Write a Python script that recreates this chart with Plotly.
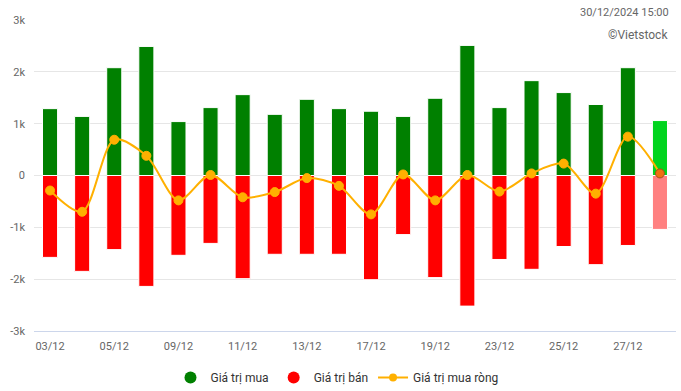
import plotly.graph_objects as go

dates = ["03/12", "04/12", "05/12", "06/12", "09/12", "10/12", "11/12", "12/12", "13/12", "16/12",
         "17/12", "18/12", "19/12", "20/12", "23/12", "24/12", "25/12", "26/12", "27/12", "30/12"]
buy = [1290, 1140, 2080, 2490, 1040, 1310, 1560, 1180, 1470, 1290,
       1240, 1140, 1490, 2510, 1310, 1830, 1600, 1370, 2080, 1060]
sell = [-1580, -1850, -1430, -2140, -1540, -1310, -1990, -1520, -1520, -1520,
        -2010, -1140, -1970, -2520, -1620, -1810, -1370, -1720, -1350, -1040]
net = [-290, -700, 690, 380, -480, 10, -420, -320, -50, -200,
       -750, 20, -480, 10, -310, 40, 230, -350, 750, 40]
ytick_vals = [-3000, -2000, -1000, 0, 1000, 2000, 3000]
ytick_text = ["-3k", "-2k", "-1k", "0", "1k", "2k", "3k"]

n = len(dates)
buy_colors = ["#008000"] * (n - 1) + ["#00D41E"]
sell_colors = ["#FF0000"] * (n - 1) + ["#FF8080"]
net_colors = ["#FFB000"] * (n - 1) + ["#F07010"]
net_line_colors = ["#FFB000"] * (n - 1) + ["#A0501A"]

FONT = "Roboto, Arial, sans-serif"
ML, MR, MT, MB = 34, 5, 20, 60
PW = 681 - ML - MR
PH = 391 - MT - MB

fig = go.Figure()
fig.add_trace(go.Bar(x=dates, y=buy, marker=dict(color=buy_colors, line=dict(color="white", width=1)),
                     showlegend=False, name="Giá trị mua"))
fig.add_trace(go.Bar(x=dates, y=sell, marker=dict(color=sell_colors, line=dict(color="white", width=1)),
                     showlegend=False, name="Giá trị bán"))
fig.add_trace(go.Scatter(x=dates, y=net, mode="lines+markers", line=dict(color="#FFB000", width=2, shape="spline", smoothing=0.85),
                         marker=dict(size=9, color=net_colors, line=dict(color=net_line_colors, width=1)),
                         showlegend=False, name="Giá trị mua ròng"))

# legend entries
fig.add_trace(go.Scatter(x=[None], y=[None], mode="markers", marker=dict(symbol="circle", size=12, color="#008000"),
                         name="Giá trị mua"))
fig.add_trace(go.Scatter(x=[None], y=[None], mode="markers", marker=dict(symbol="circle", size=12, color="#FF0000"),
                         name="Giá trị bán"))
fig.add_trace(go.Scatter(x=[None], y=[None], mode="lines+markers", line=dict(color="#FFB000", width=2),
                         marker=dict(size=8, color="#FFB000"), name="Giá trị mua ròng"))

fig.update_layout(
    width=681, height=391,
    margin=dict(l=ML, r=MR, t=MT, b=MB, autoexpand=False),
    paper_bgcolor="white", plot_bgcolor="white",
    barmode="relative", bargap=0.53,
    font=dict(family=FONT, size=11, color="#666666"),
    showlegend=True,
    legend=dict(orientation="h", x=(337 - ML) / PW, xanchor="center", y=-(377.5 - 331) / PH, yanchor="middle",
                font=dict(family=FONT, size=12, color="#333333"), itemwidth=30, traceorder="normal",
                bgcolor="rgba(0,0,0,0)"),
    xaxis=dict(tickmode="array", tickvals=dates[::2], ticktext=dates[::2], showgrid=False,
               showline=True, linecolor="#ccd6eb", linewidth=1, ticks="", automargin=False,
               ticklabelstandoff=5,
               tickfont=dict(family=FONT, size=11, color="#666666"), fixedrange=True,
               range=[-0.5, n - 0.5]),
    yaxis=dict(range=[-3000, 3000], tickvals=ytick_vals, ticktext=ytick_text, showgrid=True,
               gridcolor="#e6e6e6", gridwidth=1, zeroline=False, automargin=False,
               tickfont=dict(family=FONT, size=11, color="#666666"), ticklabelstandoff=8),
    annotations=[
        dict(text="30/12/2024 15:00", xref="paper", yref="paper", x=1, y=1 + 8 / PH, xanchor="right", yanchor="middle",
             xshift=-5, showarrow=False, font=dict(family=FONT, size=11, color="#666666")),
        dict(text="©Vietstock", xref="paper", yref="paper", x=1, y=1 - 15 / PH, xanchor="right", yanchor="middle",
             xshift=-6, showarrow=False, font=dict(family=FONT, size=12, color="#666666")),
    ],
)

fig.write_html("out.html", config={"displayModeBar": False}, post_script="document.body.style.margin='0';")
